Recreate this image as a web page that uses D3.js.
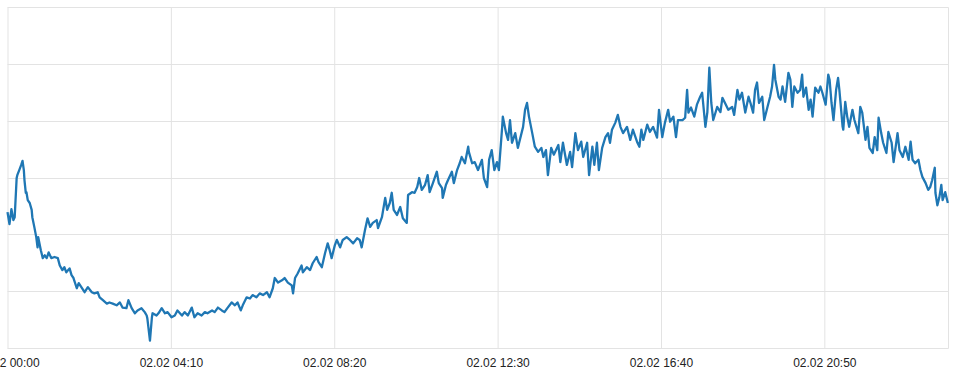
<!DOCTYPE html>
<html><head><meta charset="utf-8">
<script src="https://cdn.jsdelivr.net/npm/d3@7"></script>
<style>html,body{margin:0;padding:0;background:#fff;overflow:hidden}</style>
</head><body><svg id="chart" width="959" height="377"></svg>
<script>
// minutes since 02.02 00:00
const minutes = [0,3,6,9,11,14,15,18,21,23,25,26,28,29,31,34,37,38,41,44,46,47,51,54,57,60,63,67,72,77,80,84,87,90,95,98,101,106,109,113,118,123,129,133,138,141,146,152,156,161,167,172,176,182,185,190,195,199,205,210,213,214,218,221,222,
228,231,236,241,245,251,256,260,267,271,276,282,286,291,297,302,306,313,317,322,328,332,337,343,348,352,357,360,366,371,375,381,386,391,397,401,406,409,414,420,424,429,435,437,440,444,450,452,458,463,467,473,
476,481,486,490,493,496,501,504,509,513,519,524,529,535,539,542,547,551,555,559,565,567,573,578,581,585,588,591,596,601,605,611,613,619,623,627,630,634,639,643,646,651,657,660,665,666,671,674,680,683,688,692,695,700,705,706,711,715,
720,726,729,734,737,741,745,749,752,757,758,763,766,769,772,777,781,784,789,792,795,798,803,807,812,817,820,824,827,832,836,843,846,850,856,861,864,869,873,878,881,887,890,895,898,902,905,910,915,919,922,925,930,934,938,942,948,953,957,964,
967,970,973,979,983,988,994,997,1002,1006,1011,1014,1019,1023,1026,1033,1037,1040,1042,1046,1051,1055,1060,1063,1068,1071,1074,1077,1080,1086,1091,1094,1098,1103,1109,1112,1117,1120,1124,1129,1134,1137,1141,1144,1147,1150,1155,1158,1163,1167,1170,1173,1175,1180,1183,1186,1190,1195,1198,1201,1204,
1209,1213,1216,1218,1222,1226,1229,1232,1236,1241,1244,1247,1252,1256,1258,1261,1264,1268,1271,1273,1278,1279,1282,1285,1288,1293,1296,1302,1305,1308,1313,1316,1319,1324,1327,1331,1333,1337,1340,1345,1348,1353,1356,1362,1365,1370,1374,1379,1382,1385,1389,1394,1397,1400,1405,1409,1412,1415,1419,1420,1423,1426,1429,1431,1435,1439];
const values = [24.0,21.9,24.5,22.6,23.1,30.0,30.5,31.4,32.3,33.0,31.4,29.6,27.4,27.5,26.1,25.6,24.4,23.1,21.4,19.6,17.8,19.6,17.3,15.9,16.4,15.9,16.9,15.9,16.1,15.9,14.6,13.8,14.3,13.4,14.1,12.9,12.4,10.6,11.5,10.8,9.9,10.8,9.9,9.7,9.9,9.0,8.5,7.9,8.1,7.9,7.6,8.1,7.2,7.1,8.5,7.1,6.2,6.7,7.1,6.4,5.8,5.3,1.4,5.5,6.2,
5.8,6.2,7.1,6.2,6.4,5.5,5.8,6.7,5.8,6.4,5.8,7.2,5.5,6.2,5.8,6.4,6.2,6.7,6.4,7.2,6.7,6.4,7.2,8.1,7.6,8.1,6.7,7.6,9.0,8.8,9.4,9.0,9.7,9.4,9.9,9.0,10.6,12.4,11.6,12.0,12.4,11.6,11.1,9.7,12.4,13.2,14.6,13.4,14.3,13.8,15.0,16.1,
15.2,14.3,16.8,18.5,17.3,15.9,18.2,19.1,17.8,19.1,19.6,19.1,18.5,19.4,19.1,17.8,20.8,22.9,21.4,22.1,22.6,21.2,23.1,26.5,24.4,25.6,27.4,24.4,23.5,24.9,22.9,22.1,27.0,27.5,27.4,28.4,30.0,27.9,28.8,30.5,27.5,29.1,31.1,29.1,28.2,26.5,28.8,29.6,31.1,29.1,31.4,32.6,33.7,32.6,35.5,34.6,32.6,32.8,
31.4,33.2,30.0,28.4,33.2,34.9,31.4,32.8,31.4,39.0,40.8,37.9,36.7,40.2,36.2,37.9,35.3,36.7,39.0,42.0,43.2,40.8,37.9,35.5,34.6,35.3,33.7,34.9,30.5,35.3,34.1,35.8,32.8,36.2,32.3,34.6,31.9,37.9,34.9,36.4,33.7,36.2,30.5,35.5,32.3,36.2,31.4,35.3,37.2,37.9,36.2,38.5,39.7,41.1,39.0,37.9,39.0,36.7,38.5,36.2,
35.5,38.5,36.7,39.4,38.1,39.0,37.1,42.0,37.2,39.7,42.0,39.9,40.8,37.2,40.2,40.2,40.6,45.5,41.5,42.4,40.8,42.9,44.3,45.0,39.0,41.6,49.4,43.2,40.2,42.5,41.6,44.1,43.2,42.0,42.5,41.1,45.5,43.8,45.0,41.5,44.3,43.2,41.5,45.5,46.8,43.2,44.3,40.2,42.5,44.3,46.1,49.9,47.3,44.3,43.8,46.1,43.4,48.5,47.3,42.5,46.1,
45.0,45.5,48.2,44.3,45.9,42.0,43.8,40.8,45.9,45.0,46.1,45.0,42.9,48.2,47.3,43.2,40.2,45.5,47.6,45.5,39.0,38.5,43.4,40.8,39.0,42.0,40.2,37.9,42.5,41.5,36.7,39.0,35.3,34.4,37.2,34.9,40.6,37.9,36.2,34.4,38.1,36.2,32.8,37.9,34.9,33.7,35.5,33.2,36.4,33.2,32.6,33.2,31.4,30.2,29.1,27.9,28.4,29.6,31.8,27.4,25.2,26.6,28.8,26.1,27.5,25.6];

const xTickMinutes = [0, 250, 500, 750, 1000, 1250];
const xTickLabels = ["02.02 00:00", "02.02 04:10", "02.02 08:20", "02.02 12:30", "02.02 16:40", "02.02 20:50"];
const yGridValues = [0, 10, 20, 30, 40, 50, 60];

const svg = d3.select("#chart");
const mLeft = 7.5, mRight = 948.5, mTop = 7.5, mBottom = 348.5;
const x = d3.scaleLinear().domain([0, 1440]).range([mLeft, mRight]);
const y = d3.scaleLinear().domain([0, 60]).range([mBottom, mTop]);
const gridColor = "#e3e3e3";

// horizontal grid
svg.append("g").selectAll("line").data(yGridValues).join("line")
  .attr("x1", mLeft).attr("x2", mRight)
  .attr("y1", d => Math.round(y(d) - 0.5) + 0.5).attr("y2", d => Math.round(y(d) - 0.5) + 0.5)
  .attr("stroke", gridColor).attr("stroke-width", 1);

// vertical grid + labels
const xAxis = d3.axisBottom(x).tickValues(xTickMinutes)
  .tickFormat((d, i) => xTickLabels[i]).tickSize(-(mBottom - mTop)).tickPadding(10);
const gx = svg.append("g").attr("transform", `translate(0,${mBottom})`).call(xAxis);
gx.select(".domain").remove();
gx.selectAll(".tick line").attr("stroke", gridColor);
gx.selectAll(".tick text").attr("fill", "#222").style("font-family", "'Liberation Sans', Arial, sans-serif").style("font-size", "12px");

// right border
svg.append("line").attr("x1", x(1440)).attr("x2", x(1440)).attr("y1", mTop).attr("y2", mBottom)
  .attr("stroke", gridColor);

const data = d3.zip(minutes, values).map(([m, v]) => ({m, v}));
const line = d3.line().x(d => x(d.m)).y(d => y(d.v));
svg.append("path").datum(data).attr("d", line)
  .attr("fill", "none").attr("stroke", "#1f77b4").attr("stroke-width", 2.3).attr("stroke-linejoin", "round");
</script></body></html>
